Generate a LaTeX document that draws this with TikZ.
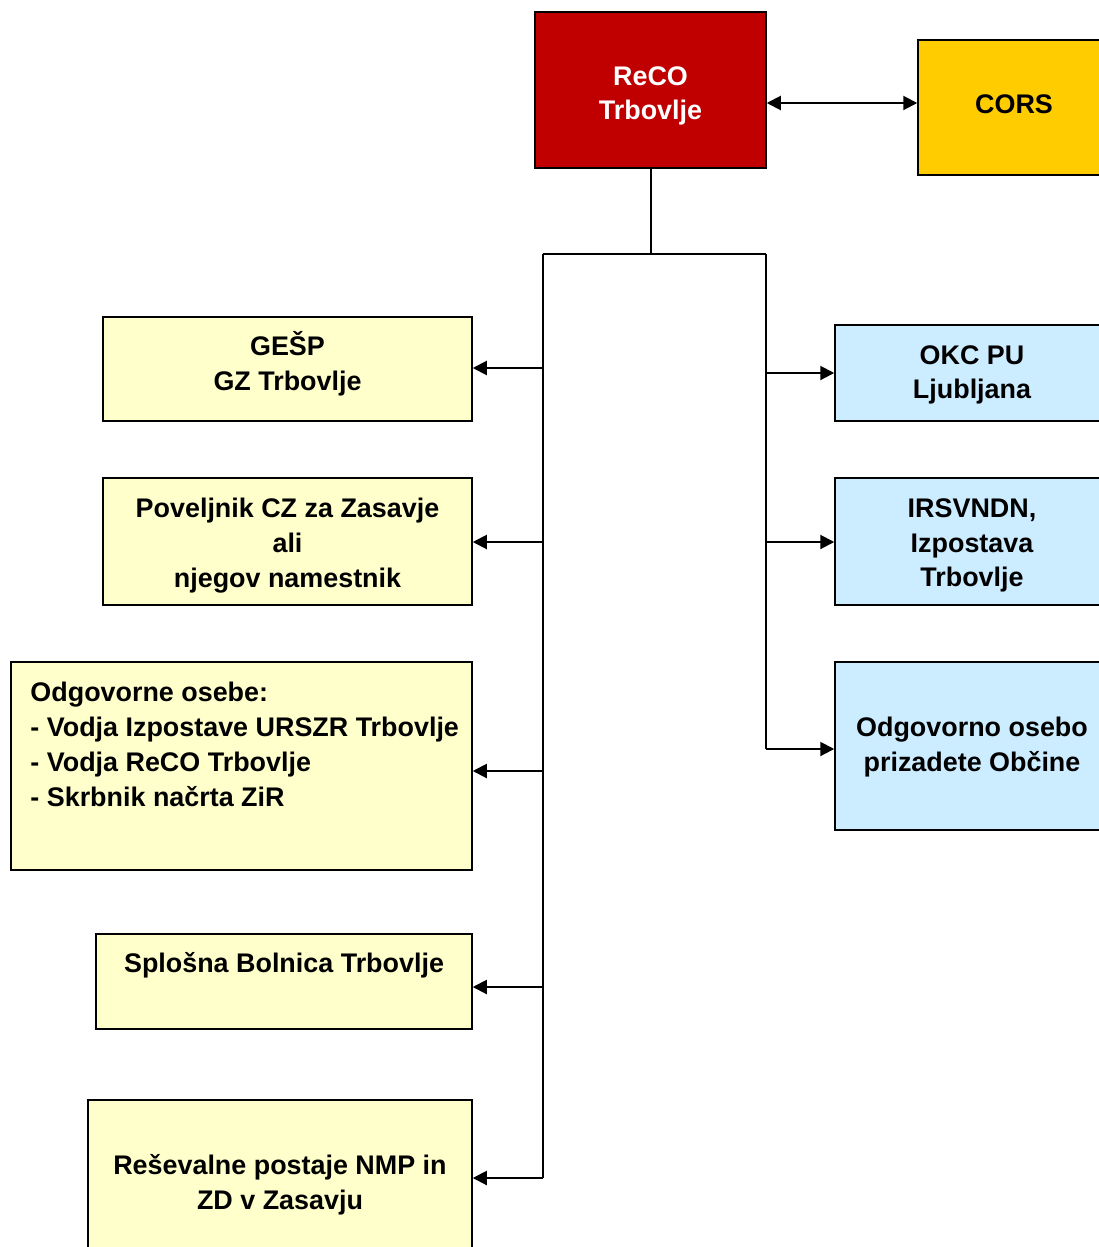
\documentclass[tikz,border=0pt]{standalone}
\usepackage{fontspec}
\setmainfont{Liberation Sans}
\usetikzlibrary{arrows.meta}
\definecolor{recored}{HTML}{C00000}
\definecolor{corsyel}{HTML}{FFCC00}
\definecolor{lightyel}{HTML}{FFFFCC}
\definecolor{lightblue}{HTML}{CCECFF}
\begin{document}
\begin{tikzpicture}[x=1pt,y=-1pt,
  box/.style={draw=black, line width=1.5pt, inner sep=0pt},
  ybox/.style={box, fill=lightyel},
  bbox/.style={box, fill=lightblue},
  txt/.style={inner sep=0pt, align=center, font=\fontsize{26.9}{34.7}\selectfont\bfseries},
  conn/.style={line width=2pt},
  arr/.style={conn, -{Triangle[length=14pt,width=14pt]}},
  darr/.style={conn, {Triangle[length=14pt,width=14pt]}-{Triangle[length=14pt,width=14pt]}}]
\useasboundingbox (0,0) rectangle (1099,1247);
\clip (0,0) rectangle (1099,1247);
% top boxes
\node[box, fill=recored, minimum width=231pt, minimum height=156pt] (reco) at (650.5,90) {};
\node[txt, text=white] (recot) at ([yshift=-6pt]reco.center) {ReCO\\Trbovlje};
\node[box, fill=corsyel, minimum width=192pt, minimum height=135pt] (cors) at (1014,107.5) {};
\node[txt] (corst) at ([yshift=3pt]cors.center) {CORS};
% left boxes
\node[ybox, minimum width=369pt, minimum height=104pt] (gesp) at (287.5,369) {};
\node[txt] (gespt) at ([yshift=5pt]gesp.center) {GEŠP\\GZ Trbovlje};
\node[ybox, minimum width=369pt, minimum height=127pt] (pov) at (287.5,541.5) {};
\node[txt] (povt) at ([yshift=-4pt]pov.center) {Poveljnik CZ za Zasavje\\ali\\njegov namestnik};
\node[ybox, minimum width=461pt, minimum height=208pt] (odg) at (241.5,766) {};
\node[txt, anchor=north west, align=left] (odgt) at ([xshift=20pt,yshift=-21pt]odg.north west) {Odgovorne osebe:\\- Vodja Izpostave URSZR Trbovlje\\- Vodja ReCO Trbovlje\\- Skrbnik načrta ZiR};
\node[ybox, minimum width=376pt, minimum height=95pt] (spl) at (284,981.5) {};
\node[txt] (splt) at (284,965) {Splošna Bolnica Trbovlje};
\node[ybox, minimum width=384pt, minimum height=164pt] (res) at (280,1182) {};
\node[txt] (rest) at ([yshift=-3pt]res.center) {Reševalne postaje NMP in\\ZD v Zasavju};
% right boxes
\node[bbox, minimum width=274pt, minimum height=96pt] (okc) at (972,373) {};
\node[txt] (okct) at ([yshift=-2pt]okc.center) {OKC PU\\Ljubljana};
\node[bbox, minimum width=274pt, minimum height=127pt] (irs) at (972,541.5) {};
\node[txt] (irst) at ([yshift=-4pt]irs.center) {IRSVNDN,\\Izpostava\\Trbovlje};
\node[bbox, minimum width=274pt, minimum height=168pt] (obc) at (972,746) {};
\node[txt] (obct) at ([yshift=-1pt]obc.center) {Odgovorno osebo\\prizadete Občine};
% connectors
\draw[darr] (reco.east |- 0,103) -- (cors.west |- 0,103);
\coordinate (j) at (650.5,254);
\coordinate (tl) at (543,254);
\coordinate (tr) at (766,254);
\coordinate (L1) at (543,368);
\coordinate (L2) at (543,542);
\coordinate (L3) at (543,771);
\coordinate (L4) at (543,987);
\coordinate (L5) at (543,1178);
\coordinate (R1) at (766,373);
\coordinate (R2) at (766,542);
\coordinate (R3) at (766,749);
\draw[conn] (reco.south) -- (j);
\draw[conn] (tl) -- (tr);
\draw[conn] (tl) -- (L5);
\draw[conn] (tr) -- (R3);
\draw[arr] (L1) -- (gesp.east |- L1);
\draw[arr] (L2) -- (pov.east |- L2);
\draw[arr] (L3) -- (odg.east |- L3);
\draw[arr] (L4) -- (spl.east |- L4);
\draw[arr] (L5) -- (res.east |- L5);
\draw[arr] (R1) -- (okc.west |- R1);
\draw[arr] (R2) -- (irs.west |- R2);
\draw[arr] (R3) -- (obc.west |- R3);
\end{tikzpicture}
\end{document}
